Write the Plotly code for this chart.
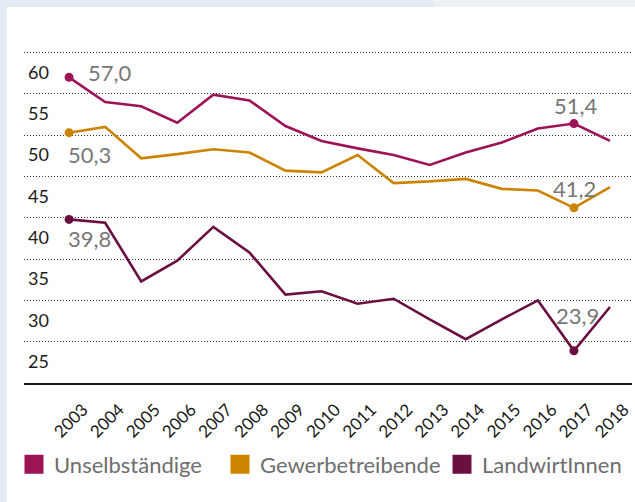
import plotly.graph_objects as go

# ---------------- data ----------------
years = [2003, 2004, 2005, 2006, 2007, 2008, 2009, 2010, 2011, 2012, 2013, 2014, 2015, 2016, 2017, 2018]
unselbstaendige = [57.0, 54.0, 53.5, 51.5, 54.9, 54.2, 51.1, 49.3, 48.4, 47.6, 46.4, 47.9, 49.1, 50.8, 51.4, 49.3]
gewerbetreibende = [50.3, 51.0, 47.2, 47.7, 48.3, 47.9, 45.7, 45.5, 47.6, 44.2, 44.4, 44.7, 43.5, 43.3, 41.2, 43.7]
landwirtinnen = [39.8, 39.4, 32.3, 34.8, 38.9, 35.8, 30.7, 31.1, 29.6, 30.2, 27.7, 25.3, 27.7, 30.0, 23.9, 29.2]
highlight_years = [2003, 2017]
y_ticks = [25, 30, 35, 40, 45, 50, 55, 60]
series_names = ["Unselbständige", "Gewerbetreibende", "LandwirtInnen"]

# ---------------- layout geometry ----------------
W, H = 635, 502
ML, MR, MT, MB = 24, 3, 36, 119
PW, PH = W - ML - MR, H - MT - MB
FONT = "Lato"

def px(x):
    return (x - ML) / PW

def py(y):
    return (H - MB - y) / PH

colors = ["#9c1456", "#cc8400", "#6a1040"]
series = [unselbstaendige, gewerbetreibende, landwirtinnen]

# label placement per series per highlighted year: (xanchor, yanchor, xshift, yshift)
label_style = [
    [("left", "middle", 17, 5), ("center", "middle", 2, 18)],
    [("left", "middle", -3, -22), ("center", "middle", 1, 19)],
    [("left", "middle", -3, -19), ("center", "middle", 4, 35)],
]

fig = go.Figure()

for i, (name, vals, col) in enumerate(zip(series_names, series, colors)):
    fig.add_trace(go.Scatter(
        x=years, y=vals, mode="lines", line=dict(color=col, width=2.6),
        showlegend=False, hoverinfo="skip"))
    hx = [y for y in years if y in highlight_years]
    hy = [vals[years.index(y)] for y in hx]
    fig.add_trace(go.Scatter(
        x=hx, y=hy, mode="markers", marker=dict(color=col, size=9),
        showlegend=False, hoverinfo="skip"))
    for j, (xx, yy) in enumerate(zip(hx, hy)):
        xa, ya, xs, ys = label_style[i][j]
        fig.add_annotation(
            x=xx, y=yy, text=f"{yy:.1f}".replace(".", ","), showarrow=False,
            xanchor=xa, yanchor=ya, xshift=xs, yshift=ys,
            font=dict(family=FONT, size=22, color="#777777"))
    # legend entries
    lg = "legend" if i == 0 else f"legend{i + 1}"
    fig.add_trace(go.Scatter(
        x=[None], y=[None], mode="markers", name=name,
        marker=dict(symbol="square", size=16, color=col, line=dict(color=col, width=3)),
        legend=lg, showlegend=True))

legend_x_px = [14, 220, 442]
legend_common = dict(
    orientation="h", yanchor="middle", xanchor="left", y=py(464.5),
    font=dict(family=FONT, size=22, color="#6e6e6e"),
    bgcolor="rgba(0,0,0,0)", borderwidth=0)
fig.update_layout(
    legend=dict(x=px(legend_x_px[0]), **legend_common),
    legend2=dict(x=px(legend_x_px[1]), **legend_common),
    legend3=dict(x=px(legend_x_px[2]), **legend_common),
)

# background card
fig.add_shape(type="rect", xref="paper", yref="paper",
              x0=px(7), x1=px(W + 5), y0=py(H + 5), y1=py(7),
              fillcolor="white", line=dict(width=0), layer="below")
fig.add_shape(type="path", xref="paper", yref="paper",
              path=f"M {px(432)} {py(0)} L {px(W + 5)} {py(0)} L {px(W + 5)} {py(7)} L {px(435)} {py(7)} Z",
              fillcolor="#edf2f6", line=dict(width=0), layer="below")

fig.update_layout(
    width=W, height=H,
    margin=dict(l=ML, r=MR, t=MT, b=MB, pad=0, autoexpand=False),
    paper_bgcolor="#e3eaf1", plot_bgcolor="rgba(0,0,0,0)",
    font=dict(family=FONT),
    xaxis=dict(
        range=[2001.75, 2018.61], tickvals=years, ticktext=[str(y) for y in years],
        tickangle=-45, showgrid=False, zeroline=False, automargin=False,
        showline=True, linecolor="#1a1a1a", linewidth=2,
        ticks="", ticklabelstandoff=8, ticklabelshift=14,
        tickfont=dict(family=FONT, size=17, color="#1a1a1a")),
    yaxis=dict(
        range=[20, 62], tickvals=y_ticks, ticktext=[str(t) for t in y_ticks],
        showgrid=True, gridcolor="#333333", gridwidth=1, griddash="1px,2px",
        zeroline=False, showline=False, ticks="", automargin=False,
        ticklabelposition="inside", ticklabelshift=20, ticklabelstandoff=1,
        tickfont=dict(family=FONT, size=18, color="#1a1a1a")),
)

fig.write_html(
    "out.html",
    config={"displayModeBar": False},
    post_script="document.body.style.margin='0';document.body.style.overflow='hidden';",
)
